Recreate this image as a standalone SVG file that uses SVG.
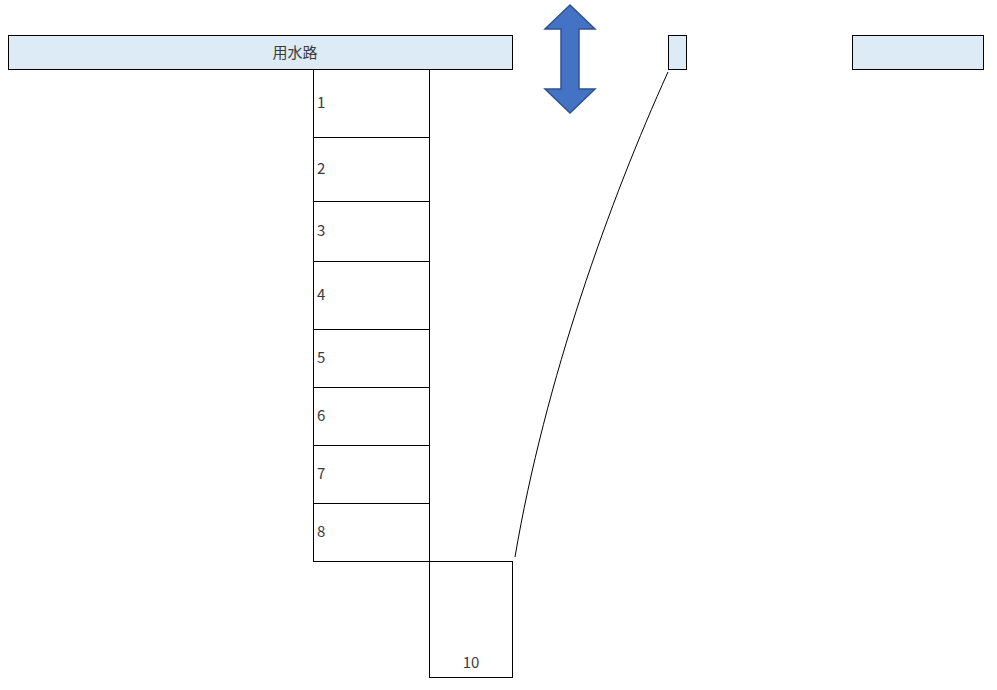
<svg xmlns="http://www.w3.org/2000/svg" width="997" height="690" viewBox="0 0 997 690">
<style>
.b{fill:#ddebf7;stroke:#000;stroke-width:1}
.c{fill:#fff;stroke:#000;stroke-width:1}
text{font-family:"Noto Sans CJK JP","Liberation Sans",sans-serif;font-size:15px;fill:#3b3b3b}
</style>
<rect width="997" height="690" fill="#fff"/>
<g id="canal"><rect class="b" x="8.5" y="35.5" width="504" height="34"/><text x="295" y="58" text-anchor="middle">用水路</text></g>
<g id="small"><rect class="b" x="668.5" y="35.5" width="18" height="34"/></g>
<g id="right"><rect class="b" x="852.5" y="35.5" width="131" height="34"/></g>
<g id="r1"><rect class="c" x="313.5" y="69.5" width="116" height="68"/><text x="317" y="108">1</text></g>
<g id="r2"><rect class="c" x="313.5" y="137.5" width="116" height="64"/><text x="317" y="174">2</text></g>
<g id="r3"><rect class="c" x="313.5" y="201.5" width="116" height="60"/><text x="317" y="236">3</text></g>
<g id="r4"><rect class="c" x="313.5" y="261.5" width="116" height="68"/><text x="317" y="300">4</text></g>
<g id="r5"><rect class="c" x="313.5" y="329.5" width="116" height="58"/><text x="317" y="363">5</text></g>
<g id="r6"><rect class="c" x="313.5" y="387.5" width="116" height="58"/><text x="317" y="421">6</text></g>
<g id="r7"><rect class="c" x="313.5" y="445.5" width="116" height="58"/><text x="317" y="479">7</text></g>
<g id="r8"><rect class="c" x="313.5" y="503.5" width="116" height="58"/><text x="317" y="537">8</text></g>
<g id="r10"><rect class="c" x="429.5" y="561.5" width="83" height="116"/><text x="471" y="668" text-anchor="middle">10</text></g>
<g id="arrow"><path d="M570,5 L595,29 L579,29 L579,89 L595,89 L570,113 L545,89 L561,89 L561,29 L545,29 Z" fill="#4472c4" stroke="#2f528f" stroke-width="1.5"/></g>
<g id="connectors"><path d="M668,72 C610,200 545,380 515,557" fill="none" stroke="#000" stroke-width="1"/></g>
</svg>
